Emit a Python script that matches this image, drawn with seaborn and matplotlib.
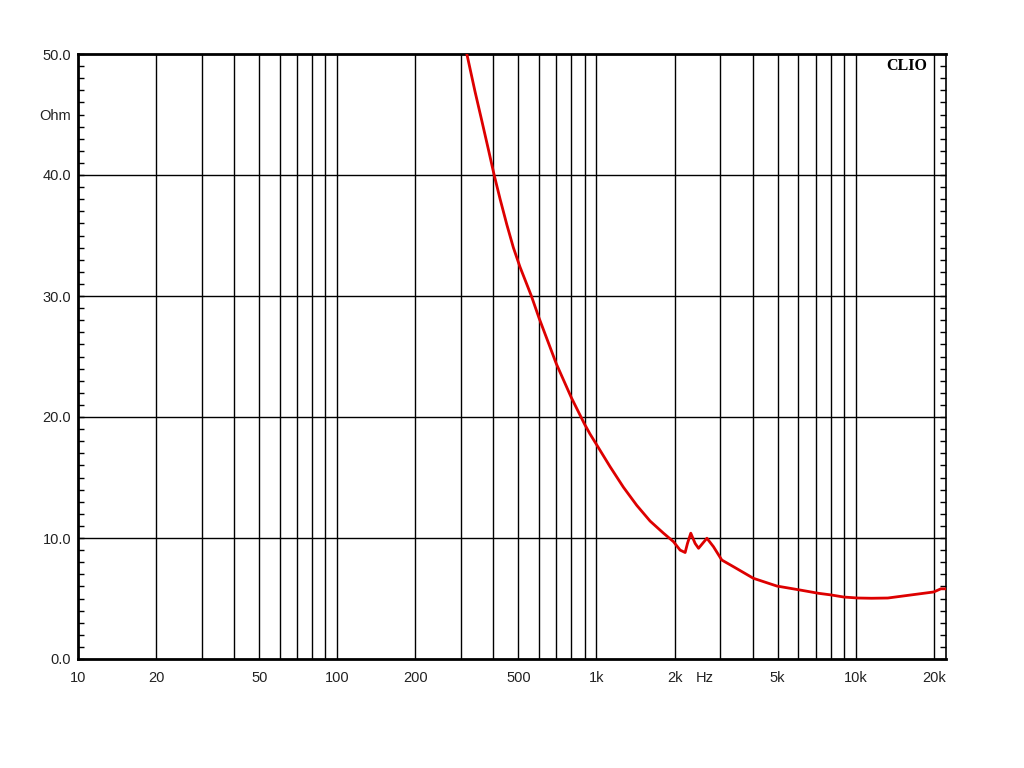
import matplotlib
matplotlib.use("Agg")
import matplotlib.pyplot as plt
import pandas as pd
import seaborn as sns
from matplotlib.ticker import MultipleLocator

sns.set_style("white")
plt.rcParams['font.family'] = ['Liberation Sans', 'DejaVu Sans']

# impedance curve
freq_hz = [314, 340, 361, 383, 403, 425, 451, 478, 507, 561, 600, 700, 800, 900,
           944, 1002, 1128, 1270, 1430, 1610, 1813, 1981, 2102, 2198, 2244, 2311,
           2402, 2476, 2667, 2827, 3044, 3375, 4030, 4963, 6105, 7185, 8000, 9000,
           10200, 11500, 13300, 16300, 20000, 21300, 22400]
impedance_ohm = [50.3, 46.9, 44.5, 42.1, 40.0, 38.0, 35.9, 34.0, 32.4, 30.0, 28.2,
                 24.4, 21.6, 19.4, 18.6, 17.7, 15.9, 14.2, 12.7, 11.4, 10.4, 9.7,
                 9.0, 8.8, 9.55, 10.4, 9.55, 9.15, 9.98, 9.28, 8.18, 7.63, 6.67,
                 6.03, 5.70, 5.43, 5.3, 5.12, 5.04, 5.02, 5.04, 5.29, 5.54, 5.8, 5.8]

# axis labels
x_grid = [20, 30, 40, 50, 60, 70, 80, 90, 100, 200, 300, 400, 500, 600, 700, 800, 900,
          1000, 2000, 3000, 4000, 5000, 6000, 7000, 8000, 9000, 10000, 20000]
x_labeled = {10: '10', 20: '20', 50: '50', 100: '100', 200: '200', 500: '500',
             1000: '1k', 2000: '2k', 5000: '5k', 10000: '10k', 20000: '20k'}
y_ticks = [0, 10, 20, 30, 40, 45, 50]
y_labels = ['0.0', '10.0', '20.0', '30.0', '40.0', 'Ohm', '50.0']

df = pd.DataFrame({'freq': freq_hz, 'Z': impedance_ohm})

fig = plt.figure(figsize=(10.24, 7.68), dpi=100)
ax = fig.add_axes([78/1024, 1 - 659/768, 868/1024, 605/768])

# grid drawn by hand so the labels can sit where they want
for f in x_grid:
    ax.axvline(f, color='black', linewidth=1, zorder=1)
for z in [10, 20, 30, 40]:
    ax.axhline(z, color='black', linewidth=1, zorder=1)

sns.lineplot(df, x='freq', y='Z', color='#dd0000', linewidth=2.0, ax=ax, zorder=3)

ax.set_xscale('log')
ax.set_xlim(10, 22300)
ax.set_ylim(0, 50)

xt = list(x_labeled.keys())
ax.set_xticks(xt)
ax.set_xticklabels([x_labeled[k] for k in xt])
ax.xaxis.set_minor_locator(plt.NullLocator())
ax.tick_params(axis='x', length=0, pad=9, labelsize=10.5, colors='#222222')
ax.text(2620, -0.031, 'Hz', transform=ax.get_xaxis_transform(),
        ha='center', va='center', fontsize=10.5, color='#222222')

ax.set_yticks(y_ticks)
ax.set_yticklabels(y_labels)
ax.yaxis.set_minor_locator(MultipleLocator(1))
ax.tick_params(axis='y', which='both', direction='in', length=4, width=1,
               left=True, right=True, pad=5, labelsize=10.5, colors='#222222')
ax.tick_params(axis='y', which='both', color='black')

ax.set_xlabel('')
ax.set_ylabel('')

for side in ['left', 'bottom', 'top']:
    ax.spines[side].set_linewidth(2)
    ax.spines[side].set_color('black')
ax.spines['right'].set_linewidth(1.2)
ax.spines['right'].set_color('black')

ax.text(0.955, 0.980, 'CLIO', transform=ax.transAxes, ha='center', va='center',
        fontsize=11.5, fontweight='bold', color='black',
        family=['Liberation Serif', 'DejaVu Serif'])

plt.savefig('out.png', dpi=100)
